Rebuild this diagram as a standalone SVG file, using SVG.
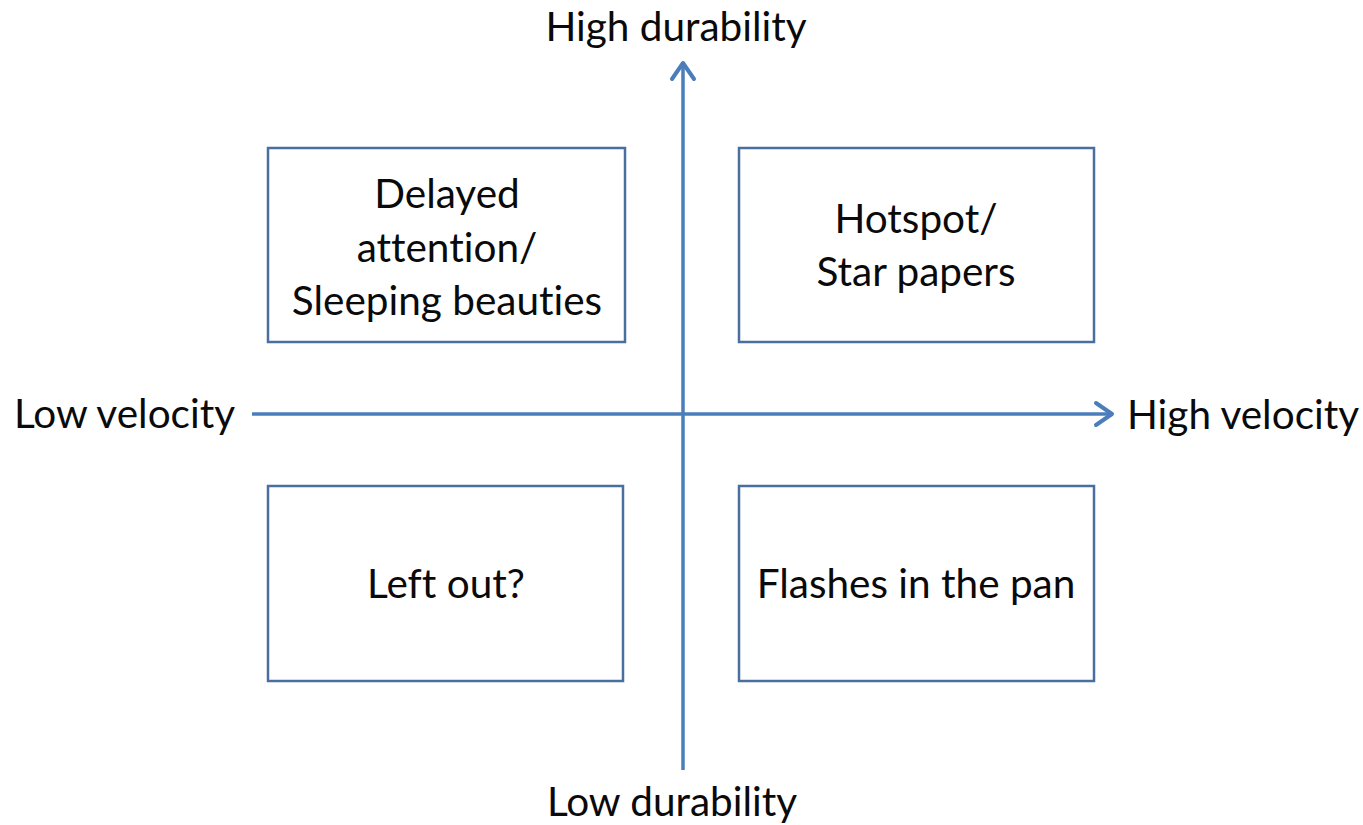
<svg xmlns="http://www.w3.org/2000/svg" width="1363" height="825" viewBox="0 0 1363 825">
<style>
text{font-family:Lato,"Open Sans","Liberation Sans",sans-serif;font-size:40.5px;fill:#0a0a0a;font-variant-ligatures:none}
.c{text-anchor:middle}
.box{fill:#fff;stroke:#4a6f9f;stroke-width:2.5}
.ax{stroke:#4a7ebb;stroke-width:3.5;fill:none}
</style>
<defs>
<marker id="arr" viewBox="0 0 30 30" refX="26" refY="15" markerWidth="30" markerHeight="30" markerUnits="userSpaceOnUse" orient="auto">
<path d="M9,4 L25,15 L9,26" fill="none" stroke="#4a7ebb" stroke-width="4" stroke-linecap="round" stroke-linejoin="round"/>
</marker>
</defs>
<rect width="1363" height="825" fill="#fff"/>
<g id="connectors">
<line class="ax" x1="683" y1="770" x2="683" y2="62" marker-end="url(#arr)"/>
<line class="ax" x1="252" y1="414" x2="1113" y2="414" marker-end="url(#arr)"/>
</g>
<g id="labels">
<text class="c" x="676" y="41">High durability</text>
<text class="c" x="672" y="816">Low durability</text>
<text x="14" y="428">Low velocity</text>
<text x="1127" y="429">High velocity</text>
</g>
<g id="delayed">
<rect class="box" x="268" y="148" width="357" height="194"/>
<text class="c" x="447" y="208">Delayed</text>
<text class="c" x="447" y="262">attention/</text>
<text class="c" x="447" y="315">Sleeping beauties</text>
</g>
<g id="hotspot">
<rect class="box" x="739" y="148" width="355" height="194"/>
<text class="c" x="916" y="233">Hotspot/</text>
<text class="c" x="916" y="286">Star papers</text>
</g>
<g id="leftout">
<rect class="box" x="268" y="486" width="355" height="195"/>
<text class="c" x="446" y="598">Left out?</text>
</g>
<g id="flashes">
<rect class="box" x="739" y="486" width="355" height="195"/>
<text class="c" x="916" y="598">Flashes in the pan</text>
</g>
</svg>
